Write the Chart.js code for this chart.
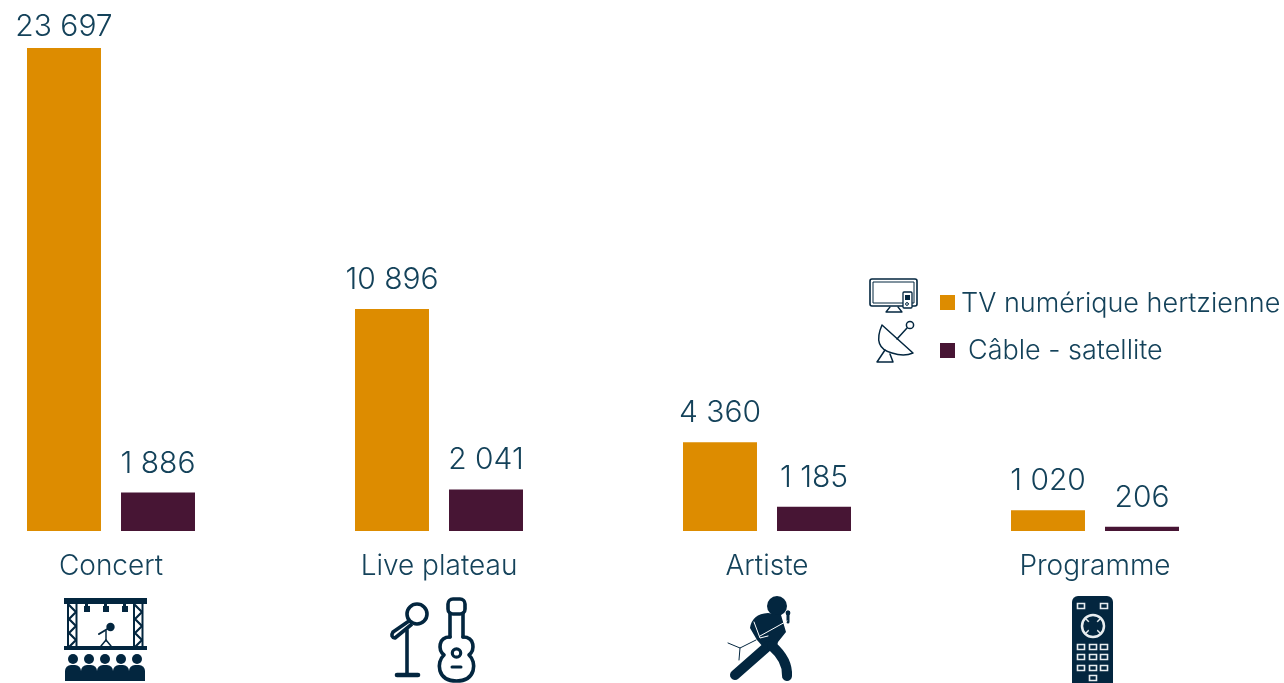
<!DOCTYPE html>
<html>
<head>
<meta charset="utf-8">
<title>Concert</title>
<script src="https://cdn.jsdelivr.net/npm/chart.js@4"></script>
<style>
  body { margin: 0; background: #fff; overflow: hidden; }
  canvas { display: block; }
</style>
</head>
<body>
<canvas id="chart" width="1284" height="683"></canvas>
<script>
const categories = ["Concert", "Live plateau", "Artiste", "Programme"];
const seriesNames = ["TV numérique hertzienne", "Câble - satellite"];
const tvValues = [23697, 10896, 4360, 1020];
const cableValues = [1886, 2041, 1185, 206];

const ORANGE = "#dd8c00";
const PLUM = "#471534";
const TEXT = "#14425a";
const ICON = "#03263f";
const FONT = "Inter, Lato, sans-serif";

function formatValue(v) {
  return String(v).replace(/\B(?=(\d{3})+$)/g, " ");
}

function line(ctx, pts, width, cap) {
  ctx.beginPath();
  ctx.lineWidth = width;
  ctx.lineCap = cap || "round";
  ctx.lineJoin = "round";
  pts.forEach((p, i) => (i ? ctx.lineTo(p[0], p[1]) : ctx.moveTo(p[0], p[1])));
  ctx.stroke();
}

function dot(ctx, x, y, r) {
  ctx.beginPath();
  ctx.arc(x, y, r, 0, Math.PI * 2);
  ctx.fill();
}

function ring(ctx, x, y, r, width) {
  ctx.beginPath();
  ctx.lineWidth = width;
  ctx.arc(x, y, r, 0, Math.PI * 2);
  ctx.stroke();
}

function stageIcon(ctx) {
  ctx.fillRect(64, 598, 83, 6);
  ctx.fillRect(64, 646, 83, 4);
  [84, 103, 122].forEach((x) => {
    ctx.fillRect(x + 1, 604, 3, 3);
    ctx.fillRect(x, 606, 6, 6);
  });
  [68, 134].forEach((x) => {
    line(ctx, [[x, 604], [x, 646]], 2, "butt");
    line(ctx, [[x + 8.5, 604], [x + 8.5, 646]], 2, "butt");
    const zig = [];
    for (let i = 0; i < 7; i++) zig.push([x + (i % 2 ? 8 : 1), 605 + i * 7]);
    line(ctx, zig, 2.2);
  });
  dot(ctx, 110.5, 627, 4.2);
  line(ctx, [[109, 628], [99, 634]], 2);
  line(ctx, [[106, 631], [106, 641]], 1.5);
  line(ctx, [[106, 640], [101, 646]], 1.5);
  line(ctx, [[106, 640], [111, 646]], 1.5);
  [73, 89, 105, 121, 137].forEach((x) => {
    dot(ctx, x, 659, 5);
    ctx.beginPath();
    ctx.roundRect(x - 8, 665, 16, 16, [6, 6, 0, 0]);
    ctx.fill();
  });
}

function micGuitarIcon(ctx) {
  ring(ctx, 417, 614, 10, 3.6);
  ctx.beginPath();
  ctx.lineWidth = 3.6;
  ctx.lineJoin = "round";
  ctx.moveTo(409, 621);
  ctx.lineTo(393, 632);
  ctx.quadraticCurveTo(390, 637, 395, 638);
  ctx.lineTo(412, 624);
  ctx.stroke();
  line(ctx, [[407, 630], [407, 675]], 3.6);
  line(ctx, [[397, 675], [418, 675]], 4.6);

  ctx.beginPath();
  ctx.lineWidth = 3.6;
  ctx.roundRect(448, 599, 17, 15, 5);
  ctx.stroke();
  line(ctx, [[450, 613], [450, 637]], 3.6);
  line(ctx, [[463, 613], [463, 637]], 3.6);
  ctx.beginPath();
  ctx.moveTo(450, 637);
  ctx.bezierCurveTo(438, 637, 438, 650, 444, 655);
  ctx.bezierCurveTo(436, 662, 437, 681, 456.5, 681);
  ctx.bezierCurveTo(476, 681, 477, 662, 469, 655);
  ctx.bezierCurveTo(475, 650, 475, 637, 463, 637);
  ctx.stroke();
  ring(ctx, 456.5, 653, 4.2, 3.2);
  line(ctx, [[452, 667], [461, 667]], 3);
}

function artistIcon(ctx) {
  dot(ctx, 777, 606, 10);
  ctx.beginPath();
  ctx.moveTo(750, 628);
  ctx.quadraticCurveTo(752, 614, 768, 613);
  ctx.lineTo(781, 615);
  ctx.lineTo(786, 632);
  ctx.lineTo(778, 642);
  ctx.lineTo(776, 650);
  ctx.lineTo(764, 648);
  ctx.lineTo(757, 640);
  ctx.closePath();
  ctx.fill();
  line(ctx, [[768, 646], [735, 675]], 10);
  ctx.beginPath();
  ctx.lineWidth = 10;
  ctx.moveTo(772, 646);
  ctx.quadraticCurveTo(788, 660, 787, 676);
  ctx.stroke();
  line(ctx, [[788, 622], [788, 612]], 3);
  dot(ctx, 788, 613, 2.4);
  line(ctx, [[728, 643], [740, 648], [756, 640]], 1);
  line(ctx, [[740, 648], [739, 660]], 1);
  ctx.strokeStyle = "#fff";
  line(ctx, [[760, 636], [787, 621]], 1);
  line(ctx, [[754, 622], [760, 638], [768, 636]], 1);
  ctx.strokeStyle = ICON;
}

function remoteIcon(ctx) {
  ctx.beginPath();
  ctx.roundRect(1072, 596, 41, 90, [6, 6, 0, 0]);
  ctx.fill();
  ctx.strokeStyle = "#e8edf0";
  ctx.lineWidth = 1.6;
  const key = (x, y) => {
    ctx.beginPath();
    ctx.rect(x - 3.5, y - 2.5, 7, 5);
    ctx.stroke();
  };
  key(1081, 606);
  key(1104, 606);
  [647, 657, 668].forEach((y) => [1081, 1093, 1104].forEach((x) => key(x, y)));
  key(1093, 678);
  ring(ctx, 1093, 626, 11, 2.5);
  line(ctx, [[1085, 618], [1101, 634]], 1.4, "butt");
  line(ctx, [[1101, 618], [1085, 634]], 1.4, "butt");
  ctx.fillStyle = ICON;
  dot(ctx, 1093, 626, 6);
  ctx.strokeStyle = ICON;
}

function tvIcon(ctx) {
  ctx.beginPath();
  ctx.lineWidth = 1.6;
  ctx.roundRect(870, 279, 47, 27, 2);
  ctx.stroke();
  ctx.beginPath();
  ctx.lineWidth = 1;
  ctx.rect(873, 282, 41, 21);
  ctx.stroke();
  line(ctx, [[890, 307], [886, 312], [902, 312], [898, 307]], 1.3);
  ctx.fillStyle = "#fff";
  ctx.fillRect(903, 292, 9, 16);
  ctx.fillStyle = ICON;
  ctx.beginPath();
  ctx.lineWidth = 1.3;
  ctx.roundRect(903, 292, 9, 16, 1);
  ctx.stroke();
  ctx.fillRect(905, 295, 5, 5);
  ring(ctx, 907, 304, 1.4, 1);
}

function dishIcon(ctx) {
  ctx.beginPath();
  ctx.lineWidth = 1.5;
  ctx.lineJoin = "round";
  ctx.moveTo(882, 325);
  ctx.quadraticCurveTo(872, 348, 892, 353);
  ctx.quadraticCurveTo(904, 357, 913, 353);
  ctx.closePath();
  ctx.stroke();
  line(ctx, [[897, 339], [907, 328]], 1.5);
  ring(ctx, 910, 325, 3.6, 1.5);
  line(ctx, [[885, 350], [877, 362], [893, 362], [890, 354]], 1.5);
}

const icons = [stageIcon, micGuitarIcon, artistIcon, remoteIcon];

const decorations = {
  id: "decorations",
  afterDatasetsDraw(chart) {
    const ctx = chart.ctx;

    // value labels above the bars
    ctx.save();
    ctx.fillStyle = TEXT;
    ctx.font = "300 30px " + FONT;
    ctx.textAlign = "center";
    ctx.textBaseline = "middle";
    chart.data.datasets.forEach((ds, i) => {
      chart.getDatasetMeta(i).data.forEach((bar, j) => {
        ctx.fillText(formatValue(ds.data[j]), bar.x, Math.max(bar.y - 29, 27));
      });
    });
    ctx.restore();

    // icons under the categories
    const xScale = chart.scales.x;
    icons.forEach((draw, i) => {
      ctx.save();
      ctx.fillStyle = ICON;
      ctx.strokeStyle = ICON;
      ctx.translate(xScale.getPixelForValue(i) - (111 + 328 * i), 0);
      draw(ctx);
      ctx.restore();
    });

    // legend
    ctx.save();
    ctx.fillStyle = ICON;
    ctx.strokeStyle = ICON;
    tvIcon(ctx);
    dishIcon(ctx);
    ctx.restore();

    ctx.save();
    ctx.font = "300 27px " + FONT;
    ctx.textBaseline = "alphabetic";
    [[295, 961, 312], [343, 968, 359]].forEach((row, i) => {
      ctx.fillStyle = chart.data.datasets[i].backgroundColor;
      ctx.fillRect(940, row[0], 15, 15);
      ctx.fillStyle = TEXT;
      ctx.fillText(seriesNames[i], row[1], row[2]);
    });
    ctx.restore();
  }
};

new Chart(document.getElementById("chart"), {
  type: "bar",
  data: {
    labels: categories,
    datasets: [
      { label: seriesNames[0], data: tvValues, backgroundColor: ORANGE, clip: false },
      { label: seriesNames[1], data: cableValues, backgroundColor: PLUM, clip: false }
    ]
  },
  options: {
    responsive: false,
    animation: false,
    categoryPercentage: 0.5732,
    barPercentage: 0.787,
    layout: { padding: { left: 111, right: 189, top: 21.4, bottom: 80.4 } },
    plugins: { legend: { display: false }, tooltip: { enabled: false } },
    scales: {
      x: {
        offset: false,
        grid: { display: false, drawTicks: false },
        border: { display: false },
        ticks: {
          autoSkip: false,
          maxRotation: 0,
          padding: 19,
          color: TEXT,
          font: { family: FONT, size: 28, weight: "300" }
        }
      },
      y: { display: false, min: 0, max: 25000 }
    }
  },
  plugins: [decorations]
});
</script>
</body>
</html>
